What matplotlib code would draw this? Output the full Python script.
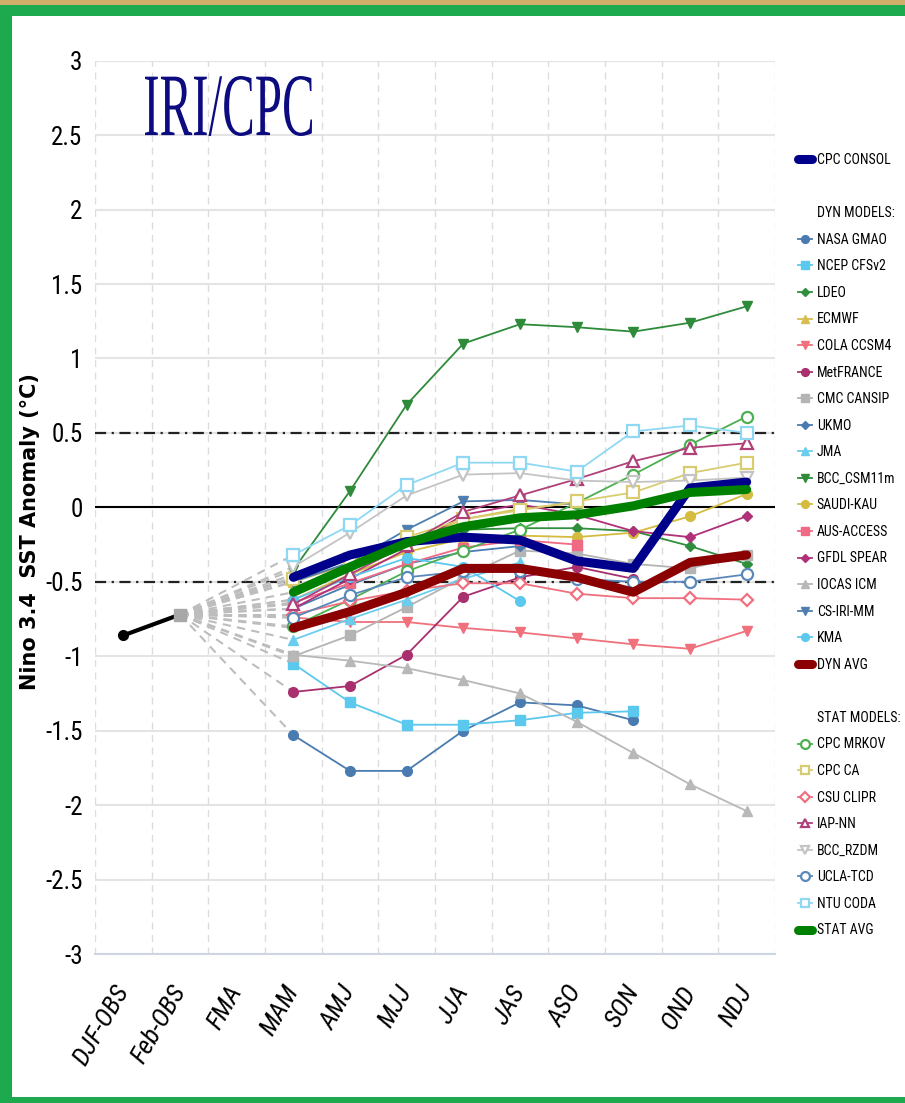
import numpy as np
import matplotlib
matplotlib.use("Agg")
import matplotlib.pyplot as plt
from matplotlib.lines import Line2D
from matplotlib.patches import Rectangle, PathPatch
from matplotlib.textpath import TextPath
from matplotlib.font_manager import FontProperties
from matplotlib.transforms import Affine2D

# seasons on the x axis
seasons = ["DJF-OBS", "Feb-OBS", "FMA", "MAM", "AMJ", "MJJ", "JJA",
           "JAS", "ASO", "SON", "OND", "NDJ"]
obs = [-0.86, -0.72]          # DJF-OBS, Feb-OBS
first_fcst = 3                # forecasts start at MAM

# dynamical models (values from MAM onward)
nasa_gmao = [-1.53, -1.77, -1.77, -1.50, -1.31, -1.33, -1.43]
ncep_cfsv2 = [-1.05, -1.31, -1.46, -1.46, -1.43, -1.38, -1.37]
ldeo = [-0.45, -0.33, -0.22, -0.15, -0.14, -0.14, -0.16, -0.26, -0.38]
ecmwf = [-0.50, -0.38, -0.24, -0.08, -0.01, 0.03]
cola_ccsm4 = [-0.74, -0.77, -0.77, -0.81, -0.84, -0.88, -0.92, -0.95, -0.83]
metfrance = [-1.24, -1.20, -0.99, -0.60, -0.47, -0.40, -0.48]
cmc_cansip = [-1.00, -0.86, -0.67, -0.47, -0.29, -0.31, -0.38, -0.41, -0.32]
ukmo = [-0.68, -0.52, -0.38, -0.30, -0.26]
jma = [-0.89, -0.75, -0.62, -0.48, -0.37]
bcc_csm11m = [-0.42, 0.11, 0.69, 1.10, 1.23, 1.21, 1.18, 1.24, 1.35]
saudi_kau = [-0.62, -0.45, -0.30, -0.21, -0.19, -0.20, -0.17, -0.06, 0.09]
aus_access = [-0.64, -0.51, -0.38, -0.27, -0.22, -0.25]
gfdl_spear = [-0.68, -0.48, -0.28, -0.05, 0.02, -0.05, -0.16, -0.20, -0.06]
iocas_icm = [-0.99, -1.03, -1.08, -1.16, -1.25, -1.44, -1.65, -1.86, -2.04]
cs_iri_mm = [-0.50, -0.37, -0.15, 0.04, 0.05, 0.02]
kma = [-0.62, -0.47, -0.34, -0.40, -0.63]
dyn_avg = [-0.81, -0.70, -0.57, -0.41, -0.41, -0.47, -0.57, -0.37, -0.32]

# statistical models
cpc_mrkov = [-0.80, -0.62, -0.43, -0.29, -0.15, 0.03, 0.22, 0.42, 0.61]
cpc_ca = [-0.48, -0.35, -0.20, -0.08, -0.02, 0.04, 0.10, 0.23, 0.30]
csu_clipr = [-0.72, -0.63, -0.56, -0.51, -0.51, -0.58, -0.61, -0.61, -0.62]
iap_nn = [-0.65, -0.45, -0.25, -0.03, 0.08, 0.19, 0.31, 0.40, 0.43]
bcc_rzdm = [-0.40, -0.17, 0.08, 0.22, 0.23, 0.18, 0.17, 0.18, 0.20]
ucla_tcd = [-0.74, -0.59, -0.47, -0.43, -0.43, -0.48, -0.50, -0.50, -0.45]
ntu_coda = [-0.32, -0.12, 0.15, 0.30, 0.30, 0.24, 0.51, 0.55, 0.50]
stat_avg = [-0.57, -0.40, -0.24, -0.13, -0.07, -0.05, 0.01, 0.10, 0.12]

cpc_consol = [-0.47, -0.32, -0.23, -0.20, -0.22, -0.36, -0.41, 0.13, 0.17]

narrow = ["Roboto Condensed", "Roboto", "DejaVu Sans"]

fig = plt.figure(figsize=(9.05, 11.03), dpi=100)
W, H = 905, 1103

# frame: tan strip at top, green border, white inside
fig.patch.set_facecolor("white")
fig.add_artist(Rectangle((0, 0), 1, 1, transform=fig.transFigure,
                         facecolor="#1DAA4E", edgecolor="none", zorder=-10))
fig.add_artist(Rectangle((0, 1 - 5 / H), 1, 5 / H, transform=fig.transFigure,
                         facecolor="#CFAE6A", edgecolor="none", zorder=-9))
fig.add_artist(Rectangle((12 / W, 6 / H), 1 - 12 / W, 1 - 22 / H,
                         transform=fig.transFigure, facecolor="white",
                         edgecolor="none", zorder=-8))

ax = fig.add_axes([95 / W, (H - 954) / H, 680 / W, 893.3 / H])
ax.set_facecolor("none")
ax.set_xlim(-0.5, 11.5)
ax.set_ylim(-3, 3)

# grid
for yv in np.arange(-3, 3.01, 0.5):
    ax.axhline(yv, color="#E4E4E4", lw=1.5, zorder=0)
for xv in np.arange(-0.5, 11.6, 1):
    ax.axvline(xv, color="#DCDCDC", lw=1, ls=(0, (5, 4)), zorder=0)
ax.axhline(0, color="black", lw=1.5, zorder=1)
for yv in (0.5, -0.5):
    ax.axhline(yv, color="#222222", lw=1.6, ls=(0, (5, 2.5, 1, 2.5)), zorder=1)

for s in ax.spines.values():
    s.set_visible(False)
ax.spines["bottom"].set_visible(True)
ax.spines["bottom"].set_color("#CDD5E0")
ax.spines["bottom"].set_linewidth(1.5)

handles = {}


def draw(vals, color, marker, label, hollow=False, ms=7):
    x = np.arange(first_fcst, first_fcst + len(vals))
    ax.plot([1, first_fcst], [obs[1], vals[0]], color="#BDBDBD", lw=1.5,
            ls=(0, (4, 3)), zorder=1)
    (ln,) = ax.plot(x, vals, color=color, lw=1.3, marker=marker, ms=ms,
                    mfc="white" if hollow else color, mec=color,
                    mew=1.6 if hollow else 1, zorder=4 if hollow else 3)
    handles[label] = ln


def draw_thick(vals, color, label, z):
    x = np.arange(first_fcst, first_fcst + len(vals))
    ax.plot([1, first_fcst], [obs[1], vals[0]], color="#BDBDBD", lw=1.5,
            ls=(0, (4, 3)), zorder=1)
    (ln,) = ax.plot(x, vals, color=color, lw=6.5, solid_capstyle="round",
                    zorder=z)
    handles[label] = ln


draw_thick(cpc_consol, "#00008B", "CPC CONSOL", 5)

draw(nasa_gmao, "#4A7BB0", "o", "NASA GMAO")
draw(ncep_cfsv2, "#5BC8EE", "s", "NCEP CFSv2")
draw(ldeo, "#2F8F3F", "D", "LDEO", ms=5.5)
draw(ecmwf, "#D6BE50", "^", "ECMWF")
draw(cola_ccsm4, "#F0707C", "v", "COLA CCSM4")
draw(metfrance, "#A8306E", "o", "MetFRANCE")
draw(cmc_cansip, "#B4B4B4", "s", "CMC CANSIP")
draw(ukmo, "#4A7BB0", "D", "UKMO", ms=5.5)
draw(jma, "#6ACDEE", "^", "JMA")
draw(bcc_csm11m, "#2E8B3A", "v", "BCC_CSM11m")
draw(saudi_kau, "#D4BC40", "o", "SAUDI-KAU")
draw(aus_access, "#F06A84", "s", "AUS-ACCESS")
draw(gfdl_spear, "#B0307A", "D", "GFDL SPEAR", ms=5.5)
draw(iocas_icm, "#B8B8B8", "^", "IOCAS ICM")
draw(cs_iri_mm, "#4F7FB0", "v", "CS-IRI-MM")
draw(kma, "#5BC8EE", "o", "KMA")
draw_thick(dyn_avg, "#8B0000", "DYN AVG", 6)

draw(cpc_mrkov, "#4CAF50", "o", "CPC MRKOV", hollow=True, ms=8)
draw(cpc_ca, "#D9CC70", "s", "CPC CA", hollow=True, ms=8)
draw(csu_clipr, "#F07080", "D", "CSU CLIPR", hollow=True, ms=6.5)
draw(iap_nn, "#B0407A", "^", "IAP-NN", hollow=True, ms=8)
draw(bcc_rzdm, "#C4C4C4", "v", "BCC_RZDM", hollow=True, ms=8)
draw(ucla_tcd, "#5A88BA", "o", "UCLA-TCD", hollow=True, ms=8)
draw(ntu_coda, "#8FD8F4", "s", "NTU CODA", hollow=True, ms=8)
draw_thick(stat_avg, "#008000", "STAT AVG", 7)

# observations
ax.plot([0, 1], obs, color="black", lw=3, zorder=6)
ax.plot([0], [obs[0]], "o", color="black", ms=7, zorder=7)
ax.plot([1], [obs[1]], "s", color="#A8A8A8", ms=8, zorder=7)

# ticks
yt = np.arange(-3, 3.01, 0.5)
ax.set_yticks(yt)
ax.set_yticklabels([("%g" % v) for v in yt], family=narrow, fontsize=18)
ax.set_xticks(range(len(seasons)))
ax.set_xticklabels(seasons, family=narrow, fontsize=19, style="italic",
                   rotation=60, ha="right", va="center",
                   rotation_mode="anchor")
ax.tick_params(axis="both", length=0)
ax.tick_params(axis="y", pad=9)
ax.tick_params(axis="x", pad=24)

fig.text(30 / W, 1 - 532 / H, "Nino 3.4  SST Anomaly (\u00b0C)", rotation=90,
         ha="center", va="center", fontsize=15, fontweight="bold",
         family="DejaVu Sans")

# legend
blank = Line2D([], [], linestyle="none")
order = (["CPC CONSOL", None, "DYN MODELS:"] +
         ["NASA GMAO", "NCEP CFSv2", "LDEO", "ECMWF", "COLA CCSM4",
          "MetFRANCE", "CMC CANSIP", "UKMO", "JMA", "BCC_CSM11m",
          "SAUDI-KAU", "AUS-ACCESS", "GFDL SPEAR", "IOCAS ICM",
          "CS-IRI-MM", "KMA", "DYN AVG", None, "STAT MODELS:",
          "CPC MRKOV", "CPC CA", "CSU CLIPR", "IAP-NN", "BCC_RZDM",
          "UCLA-TCD", "NTU CODA", "STAT AVG"])
lh, ll = [], []
for name in order:
    if name is None:
        lh.append(blank)
        ll.append(" ")
    elif name.endswith(":"):
        lh.append(blank)
        ll.append(name)
    else:
        lh.append(handles[name])
        ll.append(name)
fig.legend(lh, ll, loc="upper left", bbox_to_anchor=(791 / W, 1 - 146 / H),
           frameon=False, prop=FontProperties(family=narrow, size=10),
           handlelength=1.0, handletextpad=0.35, labelspacing=0.905,
           borderpad=0, markerscale=0.8)

# title stamp, tall and narrow serif
tp = TextPath((0, 0), "IRI/CPC", size=1,
              prop=FontProperties(family="Liberation Serif"))
ext = tp.get_extents()
sx = 167 / ext.width
sy = 60 / ext.height
x0 = 145 - ext.x0 * sx
y0 = (H - 136) - ext.y0 * sy
tr = Affine2D().scale(sx, sy).translate(x0, y0).scale(1 / 100) + fig.dpi_scale_trans
fig.add_artist(PathPatch(tp, transform=tr, facecolor="#0C0C80",
                         edgecolor="none", zorder=10))

fig.savefig("out.png", dpi=100)
